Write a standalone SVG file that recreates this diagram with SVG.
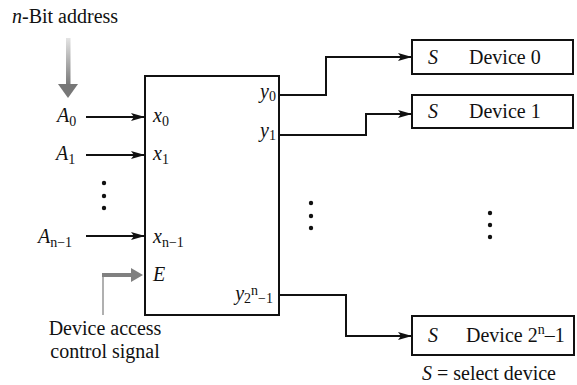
<svg xmlns="http://www.w3.org/2000/svg" width="577" height="385" viewBox="0 0 577 385">
<style>
text{font-family:'Liberation Serif','DejaVu Serif',serif;font-size:20px;fill:#111}
.i{font-style:italic}
.sub{font-size:14px;font-style:normal}
.box{fill:#fff;stroke:#111;stroke-width:2}
.wire{fill:none;stroke:#111;stroke-width:2}
.dot{fill:#111}
</style>
<defs>
<marker id="ah" markerWidth="14" markerHeight="10" refX="13" refY="5" orient="auto" markerUnits="userSpaceOnUse">
<path d="M0,1 L14,5 L0,9 L3,5 Z" fill="#111"/>
</marker>
<linearGradient id="gfade" x1="0" y1="38" x2="0" y2="86" gradientUnits="userSpaceOnUse">
<stop offset="0" stop-color="#e4e4e4"/>
<stop offset="1" stop-color="#777"/>
</linearGradient>
</defs>

<g id="title">
<text x="12" y="23" font-family="Liberation Serif"><tspan class="i">n</tspan>-Bit address</text>
<rect x="66" y="38" width="4.5" height="48" fill="url(#gfade)"/>
<polygon points="58,84 78,84 68,98" fill="#777"/>
</g>

<g id="decoder">
<rect class="box" x="145" y="76" width="134" height="239"/>
<text x="153" y="122"><tspan class="i">x</tspan><tspan class="sub" dy="4">0</tspan></text>
<text x="153" y="160"><tspan class="i">x</tspan><tspan class="sub" dy="4">1</tspan></text>
<text x="153" y="243"><tspan class="i">x</tspan><tspan class="sub i" dy="4">n</tspan><tspan class="sub">−1</tspan></text>
<text x="153" y="281" class="i">E</text>
<text x="276" y="98" text-anchor="end"><tspan class="i">y</tspan><tspan class="sub" dy="3">0</tspan></text>
<text x="276" y="137" text-anchor="end"><tspan class="i">y</tspan><tspan class="sub" dy="3">1</tspan></text>
<text x="273" y="300" text-anchor="end"><tspan class="i">y</tspan><tspan class="sub" dy="3">2</tspan><tspan class="sub i" dy="-8" font-size="12">n</tspan><tspan class="sub" dy="8">−1</tspan></text>
</g>

<g id="inputs">
<text x="57" y="122"><tspan class="i">A</tspan><tspan class="sub" dy="4">0</tspan></text>
<text x="56" y="160"><tspan class="i">A</tspan><tspan class="sub" dy="4">1</tspan></text>
<text x="38" y="243"><tspan class="i">A</tspan><tspan class="sub i" dy="4">n</tspan><tspan class="sub">−1</tspan></text>
<circle class="dot" cx="104" cy="183" r="2.2"/>
<circle class="dot" cx="104" cy="196" r="2.2"/>
<circle class="dot" cx="104" cy="208" r="2.2"/>
</g>

<g id="enable">
<line x1="103" y1="315" x2="103" y2="274" stroke="#b0b0b0" stroke-width="2"/>
<line x1="102" y1="275" x2="133" y2="275" stroke="#808080" stroke-width="4"/>
<polygon points="131,268 131,282 143,275" fill="#808080"/>
<text x="105" y="335" text-anchor="middle">Device access</text>
<text x="105" y="358" text-anchor="middle">control signal</text>
</g>

<g id="device0">
<rect class="box" x="412" y="40" width="161" height="34"/>
<text x="428" y="64" class="i">S</text>
<text x="469" y="64">Device 0</text>
</g>

<g id="device1">
<rect class="box" x="412" y="95" width="161" height="33"/>
<text x="428" y="118" class="i">S</text>
<text x="469" y="118">Device 1</text>
</g>

<g id="device2n">
<rect class="box" x="412" y="316" width="162" height="39"/>
<text x="428" y="342" class="i">S</text>
<text x="466" y="342">Device 2<tspan class="sub i" dy="-8">n</tspan><tspan dy="8">–1</tspan></text>
</g>

<g id="middle-dots">
<circle class="dot" cx="311" cy="203" r="2.2"/>
<circle class="dot" cx="311" cy="216" r="2.2"/>
<circle class="dot" cx="311" cy="228" r="2.2"/>
<circle class="dot" cx="490" cy="213" r="2.2"/>
<circle class="dot" cx="490" cy="225" r="2.2"/>
<circle class="dot" cx="490" cy="237" r="2.2"/>
</g>

<g id="legend">
<text x="422" y="380"><tspan class="i">S</tspan> = select device</text>
</g>

<g id="connectors">
<line class="wire" x1="86" y1="117" x2="144" y2="117" marker-end="url(#ah)"/>
<line class="wire" x1="86" y1="155" x2="144" y2="155" marker-end="url(#ah)"/>
<line class="wire" x1="86" y1="236" x2="144" y2="236" marker-end="url(#ah)"/>
<polyline class="wire" points="279,95 326,95 326,57 411,57" marker-end="url(#ah)"/>
<polyline class="wire" points="279,135 366,135 366,114 411,114" marker-end="url(#ah)"/>
<polyline class="wire" points="279,295 346,295 346,336 411,336" marker-end="url(#ah)"/>
</g>
</svg>
